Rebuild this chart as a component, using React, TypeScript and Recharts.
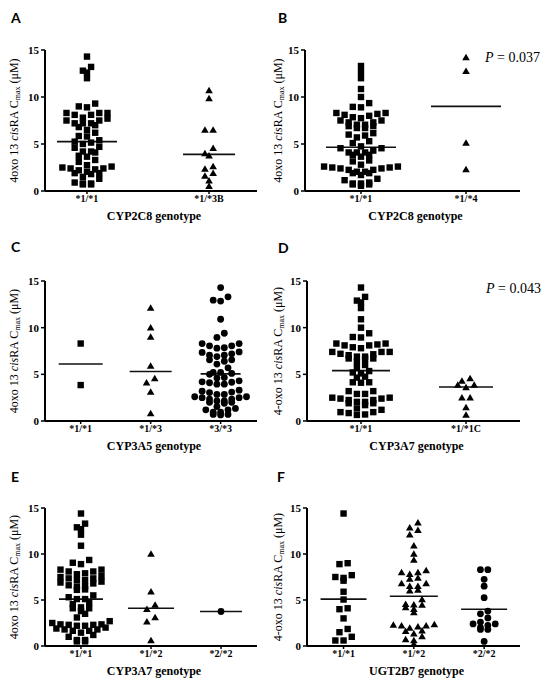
import React from "react";
import {
  ScatterChart,
  Scatter,
  XAxis,
  YAxis,
  ReferenceLine,
  Label,
} from "recharts";

const SERIF = "'Liberation Serif', 'Times New Roman', serif";

// genotype categories
const catsA = ["*1/*1", "*1/*3B"];
const catsB = ["*1/*1", "*1/*4"];
const catsC = ["*1/*1", "*1/*3", "*3/*3"];
const catsD = ["*1/*1", "*1/*1C"];
const catsE = ["*1/*1", "*1/*2", "*2/*2"];
const catsF = ["*1/*1", "*1/*2", "*2/*2"];

// A: CYP2C8 (*3B)
const a11 = [
  14.3, 13.2, 12.8, 12.6, 12.0, 9.3, 9.0, 8.9, 8.3, 8.1, 8.1, 8.3, 8.3, 7.7, 7.8,
  7.5, 7.2, 7.2, 7.2, 7.0, 7.5, 6.8, 6.5, 6.2, 5.85, 5.8, 5.4, 5.15, 5.25, 5.0,
  4.7, 4.6, 4.2, 4.1, 4.2, 3.75, 3.65, 3.3, 3.1, 2.75, 2.6, 2.4, 2.4, 2.5, 2.3,
  2.2, 2.05, 1.9, 1.8, 1.9, 1.5, 1.3, 0.9, 0.8, 0.7, 0.7, 0.8,
];
const a13b = [10.7, 9.85, 6.5, 6.5, 4.55, 4.0, 3.75, 2.6, 2.35, 1.9, 1.6, 1.1, 0.5];
const medA = [5.25, 3.9];

// B: CYP2C8 (*4)
const b11 = [
  13.3, 12.65, 12.0, 10.85, 10.0, 9.35, 8.9, 8.95, 8.3, 8.1, 7.85, 7.75, 8.0, 8.2,
  8.3, 7.5, 7.3, 7.05, 6.9, 6.7, 6.7, 6.9, 7.05, 7.3, 7.5, 6.15, 5.9, 5.7, 6.0,
  5.3, 4.75, 4.55, 4.55, 5.1, 4.1, 4.1, 3.85, 3.65, 3.85, 4.1, 4.3, 3.15, 3.25,
  2.8, 2.4, 2.25, 2.05, 1.9, 1.7, 1.9, 2.05, 2.25, 2.4, 2.6, 2.5, 2.5, 2.6, 1.15,
  1.3, 0.8, 0.7, 0.55, 0.7, 0.8, 0.9,
];
const b14 = [14.2, 12.75, 5.1, 2.3];
const medB = [4.65, 9.0];

// C: CYP3A5
const c11 = [8.3, 3.85];
const c13 = [12.1, 10.0, 9.0, 5.9, 4.55, 4.1, 3.1, 0.8];
const c33 = [
  14.3, 13.3, 12.85, 12.95, 10.9, 9.4, 8.95, 8.3, 8.05, 7.85, 7.8, 8.05, 8.3, 7.35,
  7.05, 6.9, 7.05, 7.2, 7.4, 6.55, 6.4, 6.55, 6.1, 5.7, 5.2, 5.0, 5.1, 5.2, 4.2,
  4.15, 3.95, 3.95, 4.1, 4.3, 4.6, 4.65, 3.3, 3.05, 3.1, 3.2, 2.85, 2.6, 2.5, 2.5,
  2.6, 2.85, 2.35, 2.15, 2.0, 1.9, 2.0, 2.15, 2.35, 1.55, 1.35, 1.2, 1.2, 0.95,
  0.7, 0.65, 0.7, 0.95,
];
const medC = [6.1, 5.3, 5.05];

// D: CYP3A7 (*1C)
const d11 = [
  14.3, 13.3, 12.7, 12.9, 12.1, 10.9, 10.0, 9.4, 9.0, 8.95, 8.3, 8.1, 8.1, 8.2,
  8.3, 7.8, 7.9, 7.4, 6.9, 7.05, 6.7, 7.2, 6.65, 7.15, 7.4, 7.4, 6.9, 6.7, 6.3,
  6.0, 5.7, 5.35, 5.1, 5.2, 4.65, 4.75, 4.15, 4.1, 4.15, 3.2, 3.2, 2.9, 2.9, 2.5,
  2.25, 2.05, 1.9, 1.7, 1.9, 2.05, 2.25, 2.5, 2.4, 2.4, 1.35, 1.2, 0.95, 0.85,
  0.65, 0.7, 0.95,
];
const d1c = [4.55, 4.3, 3.85, 3.6, 3.85, 2.5, 2.5, 1.45, 0.65];
const medD = [5.4, 3.65];

// E: CYP3A7 (*2)
const e11 = [
  14.4, 13.3, 12.9, 12.7, 12.1, 10.9, 9.35, 8.9, 9.05, 8.3, 8.3, 8.1, 8.1, 7.9,
  7.8, 7.6, 7.5, 7.35, 7.35, 7.15, 6.8, 7.15, 7.0, 6.9, 6.5, 6.6, 6.15, 6.45, 6.1,
  5.5, 5.3, 5.1, 4.55, 4.7, 5.1, 4.1, 3.8, 4.1, 4.2, 3.5, 3.1, 2.7, 2.5, 2.35,
  2.2, 2.3, 2.2, 2.3, 2.35, 2.0, 1.9, 1.8, 1.65, 1.45, 1.65, 1.8, 1.2, 1.0, 0.65,
  0.5, 0.5, 0.65,
];
const e12 = [10.0, 5.9, 4.45, 4.0, 3.1, 2.65, 0.6];
const e22 = [3.75];
const medE = [5.1, 4.1, 3.75];

// F: UGT2B7
const f11 = [14.4, 8.9, 9.0, 7.7, 7.5, 7.4, 7.1, 5.9, 5.05, 4.1, 4.0, 3.0, 1.85, 1.5, 1.0, 0.6, 0.6];
const f12 = [
  13.4, 12.85, 12.6, 12.1, 10.9, 10.0, 9.35, 8.2, 8.0, 7.8, 8.0, 7.3, 7.4, 6.8,
  6.5, 6.5, 6.8, 6.0, 6.1, 5.05, 4.45, 4.55, 4.2, 4.5, 4.0, 3.65, 2.2, 1.95, 2.3,
  2.35, 2.1, 2.2, 1.65, 1.35, 1.6, 1.05, 0.7, 0.2, 0.6,
];
const f22 = [8.3, 8.3, 7.25, 6.5, 5.25, 3.8, 3.5, 3.05, 2.6, 2.4, 2.25, 2.4, 1.8, 1.8, 2.0, 0.5];
const medF = [5.1, 5.4, 4.0];

type Kind = "square" | "triangle" | "circle";

type PanelDef = {
  letter: string;
  letterX: number;
  letterY: number;
  l: number;
  t: number;
  r: number;
  b: number;
  lo: number;
  hi: number;
  cats: string[];
  groups: number[][];
  kinds: Kind[];
  medians: number[];
  half: number[];
  xTitle: string;
  yPrefix: string;
  yDx: number;
  p?: { text: string; x: number; y: number };
};

const panels: PanelDef[] = [
  {
    letter: "A", letterX: 11, letterY: 23,
    l: 45, t: 50, r: 257, b: 191, lo: -0.344, hi: 1.393,
    cats: catsA, groups: [a11, a13b], kinds: ["square", "triangle"],
    medians: medA, half: [30, 26],
    xTitle: "CYP2C8 genotype", yPrefix: "4oxo", yDx: -31,
  },
  {
    letter: "B", letterX: 278, letterY: 23,
    l: 305, t: 50, r: 520, b: 191, lo: -0.533, hi: 1.514,
    cats: catsB, groups: [b11, b14], kinds: ["square", "triangle"],
    medians: medB, half: [35, 35],
    xTitle: "CYP2C8 genotype", yPrefix: "4oxo", yDx: -27,
    p: { text: "0.037", x: 485, y: 62 },
  },
  {
    letter: "C", letterX: 11, letterY: 252,
    l: 45, t: 281, r: 257, b: 421, lo: -0.51, hi: 2.52,
    cats: catsC, groups: [c11, c13, c33], kinds: ["square", "triangle", "circle"],
    medians: medC, half: [22, 21, 20],
    xTitle: "CYP3A5 genotype", yPrefix: "4oxo", yDx: -31,
  },
  {
    letter: "D", letterX: 278, letterY: 253,
    l: 307, t: 281, r: 520, b: 421, lo: -0.514, hi: 1.514,
    cats: catsD, groups: [d11, d1c], kinds: ["square", "triangle"],
    medians: medD, half: [29, 27],
    xTitle: "CYP3A7 genotype", yPrefix: "4-oxo", yDx: -29,
    p: { text: "0.043", x: 486, y: 293 },
  },
  {
    letter: "E", letterX: 11, letterY: 482,
    l: 45, t: 508, r: 257, b: 646, lo: -0.514, hi: 2.514,
    cats: catsE, groups: [e11, e12, e22], kinds: ["square", "triangle", "circle"],
    medians: medE, half: [22, 23, 21],
    xTitle: "CYP3A7 genotype", yPrefix: "4oxo", yDx: -31,
  },
  {
    letter: "F", letterX: 277, letterY: 482,
    l: 307, t: 508, r: 520, b: 646, lo: -0.52, hi: 2.51,
    cats: catsF, groups: [f11, f12, f22], kinds: ["square", "triangle", "circle"],
    medians: medF, half: [23, 24, 23],
    xTitle: "UGT2B7 genotype", yPrefix: "4-oxo", yDx: -29,
  },
];

const STEP: Record<Kind, number> = { square: 8.2, triangle: 8.2, circle: 7.4 };

// Prism-style column scatter: close values share a row, centred on the category,
// lowest values of a row in the middle.
function swarm(values: number[], gi: number, pxPerUnit: number, spacingPx: number, kind: Kind) {
  const step = STEP[kind];
  const rowPx = 5.2;
  const sorted = [...values].sort((a, b) => b - a);
  const rows: number[][] = [];
  for (const v of sorted) {
    const row = rows[rows.length - 1];
    if (row && (row[0] - v) * pxPerUnit < rowPx) row.push(v);
    else rows.push([v]);
  }
  const pts: { x: number; y: number }[] = [];
  rows.forEach((row) => {
    const n = row.length;
    const slots = Array.from({ length: n }, (_, k) => (k - (n - 1) / 2) * step).sort(
      (a, b) => Math.abs(a) - Math.abs(b) || a - b
    );
    const asc = [...row].sort((a, b) => a - b);
    asc.forEach((v, i) => pts.push({ x: gi + slots[i] / spacingPx, y: v }));
  });
  return pts;
}

const Marker = ({ cx, cy, kind }: { cx?: number; cy?: number; kind: Kind }) => {
  if (cx == null || cy == null) return null;
  if (kind === "square")
    return <rect x={cx - 3.2} y={cy - 3.2} width={6.4} height={6.4} fill="#000" />;
  if (kind === "triangle")
    return (
      <polygon
        points={`${cx},${cy - 3.7} ${cx + 3.8},${cy + 2.8} ${cx - 3.8},${cy + 2.8}`}
        fill="#000"
      />
    );
  return <circle cx={cx} cy={cy} r={3.4} fill="#000" />;
};

const yTitle = (prefix: string, dx: number) => (props: any) => {
  const vb = props.viewBox || {};
  const cx = vb.x + vb.width + dx;
  const cy = vb.y + vb.height / 2;
  return (
    <text
      x={cx}
      y={cy}
      transform={`rotate(-90 ${cx} ${cy})`}
      textAnchor="middle"
      dominantBaseline="central"
      fontFamily={SERIF}
      fontSize={12}
      fill="#000"
    >
      <tspan>{prefix} 13 </tspan>
      <tspan fontStyle="italic">cis</tspan>
      <tspan>RA C</tspan>
      <tspan fontSize={8} dy={3}>max</tspan>
      <tspan dy={-3}> (μM)</tspan>
    </text>
  );
};

const xTitle = (text: string) => (props: any) => {
  const vb = props.viewBox || {};
  return (
    <text
      x={vb.x + vb.width / 2 + 3}
      y={vb.y + 25}
      textAnchor="middle"
      dominantBaseline="central"
      fontFamily={SERIF}
      fontWeight={700}
      fontSize={12}
      fill="#000"
    >
      {text}
    </text>
  );
};

function Panel({ p }: { p: PanelDef }) {
  const plotW = p.r - p.l;
  const plotH = p.b - p.t;
  const pxPerUnit = plotH / 15;
  const spacingPx = plotW / (p.hi - p.lo);
  const ticks = p.cats.map((_, i) => i);

  return (
    <div style={{ position: "absolute", left: p.l - 40, top: p.t - 10 }}>
      <ScatterChart
        width={plotW + 50}
        height={plotH + 50}
        margin={{ top: 10, right: 10, bottom: 0, left: 0 }}
      >
        <XAxis
          type="number"
          dataKey="x"
          domain={[p.lo, p.hi]}
          ticks={ticks}
          interval={0}
          allowDataOverflow
          tickFormatter={(v: number) => p.cats[Math.round(v)] ?? ""}
          height={40}
          tickSize={3}
          tickMargin={1}
          axisLine={{ stroke: "#000", strokeWidth: 2 }}
          tickLine={{ stroke: "#000", strokeWidth: 1.5 }}
          tick={{ fontSize: 10, fontWeight: 700, fill: "#000", fontFamily: SERIF }}
          label={<Label content={xTitle(p.xTitle)} />}
        />
        <YAxis
          type="number"
          dataKey="y"
          domain={[0, 15]}
          ticks={[0, 5, 10, 15]}
          allowDataOverflow
          width={40}
          tickSize={4}
          tickMargin={2}
          axisLine={{ stroke: "#000", strokeWidth: 2 }}
          tickLine={{ stroke: "#000", strokeWidth: 1.5 }}
          tick={{ fontSize: 11, fontWeight: 700, fill: "#000", fontFamily: SERIF }}
          label={<Label content={yTitle(p.yPrefix, p.yDx)} />}
        />
        {p.groups.map((vals, gi) => (
          <Scatter
            key={`s${gi}`}
            data={swarm(vals, gi, pxPerUnit, spacingPx, p.kinds[gi])}
            isAnimationActive={false}
            shape={(s: any) => <Marker cx={s.cx} cy={s.cy} kind={p.kinds[gi]} />}
          />
        ))}
        {p.medians.map((m, gi) => (
          <ReferenceLine
            key={`m${gi}`}
            segment={[
              { x: gi - p.half[gi] / spacingPx, y: m },
              { x: gi + p.half[gi] / spacingPx, y: m },
            ]}
            stroke="#111"
            strokeWidth={1.6}
            ifOverflow="visible"
          />
        ))}
      </ScatterChart>
    </div>
  );
}

export default function App() {
  return (
    <div
      style={{
        position: "absolute",
        left: 0,
        top: 0,
        width: 550,
        height: 686,
        background: "#fff",
        overflow: "hidden",
      }}
    >
      {panels.map((p) => (
        <Panel key={p.letter} p={p} />
      ))}
      <svg
        width={550}
        height={686}
        style={{ position: "absolute", left: 0, top: 0, pointerEvents: "none" }}
      >
        {panels.map((p) => (
          <text
            key={`l${p.letter}`}
            x={p.letterX}
            y={p.letterY}
            fontFamily="Lato, 'Open Sans', sans-serif"
            fontWeight={700}
            fontSize={14}
            fill="#000"
          >
            {p.letter}
          </text>
        ))}
        {panels
          .filter((p) => p.p)
          .map((p) => (
            <text
              key={`p${p.letter}`}
              x={p.p!.x}
              y={p.p!.y}
              fontFamily={SERIF}
              fontSize={14}
              fill="#000"
            >
              <tspan fontStyle="italic">P</tspan>
              <tspan> = {p.p!.text}</tspan>
            </text>
          ))}
      </svg>
    </div>
  );
}
